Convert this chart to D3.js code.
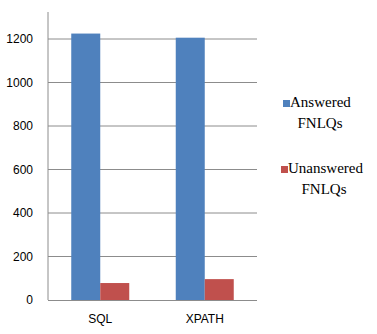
<!DOCTYPE html>
<html>
<head>
<meta charset="utf-8">
<style>
    body { margin: 0; background: #fff; }
    .tick-label { font-family: "Liberation Sans", Arial, sans-serif; font-size: 12px; fill: #000; }
    .legend-label { font-family: "Liberation Serif", "Times New Roman", "DejaVu Serif", serif; font-size: 15px; fill: #000; }
</style>
</head>
<body>
<svg width="377" height="334"></svg>
<script src="https://d3js.org/d3.v7.min.js"></script>
<script>
    // data
    let categories = ["SQL", "XPATH"]
    let seriesNames = ["Answered FNLQs", "Unanswered FNLQs"]
    let answered = [1225, 1206]
    let unanswered = [78, 96]
    let yTicks = [0, 200, 400, 600, 800, 1000, 1200]

    let colors = ["#4f81bd", "#c0504d"]

    let svg = d3.select("svg")

    let plotLeft = 48, plotRight = 257, plotTop = 12, plotBottom = 300

    let x0 = d3.scaleBand()
        .domain(categories)
        .range([plotLeft, plotRight])
        .paddingInner(0.445)
        .paddingOuter(0.2225)

    let x1 = d3.scaleBand()
        .domain([0, 1])
        .range([0, x0.bandwidth()])

    let y = d3.scaleLinear()
        .domain([0, 1200])
        .range([plotBottom, 39])

    // gridlines
    svg.append("g")
        .selectAll("line")
        .data(yTicks.filter(d => d > 0))
        .join("line")
        .attr("x1", plotLeft)
        .attr("x2", plotRight)
        .attr("y1", d => y(d))
        .attr("y2", d => y(d))
        .style("stroke", "#8c8c8c")
        .style("stroke-width", 1)

    // y tick labels
    svg.append("g")
        .selectAll("text")
        .data(yTicks)
        .join("text")
        .attr("class", "tick-label")
        .attr("x", plotLeft - 15)
        .attr("y", d => y(d) + 4)
        .attr("text-anchor", "end")
        .text(d => d)

    // bars
    let rows = categories.map((c, i) => ({ cat: c, vals: [answered[i], unanswered[i]] }))

    svg.append("g")
        .selectAll("g")
        .data(rows)
        .join("g")
        .attr("transform", d => "translate(" + x0(d.cat) + ",0)")
        .selectAll("rect")
        .data(d => d.vals.map((v, k) => ({ k: k, v: v })))
        .join("rect")
        .attr("x", d => x1(d.k))
        .attr("width", x1.bandwidth())
        .attr("y", d => y(d.v))
        .attr("height", d => y(0) - y(d.v))
        .style("fill", d => colors[d.k])

    // axes lines
    svg.append("line")
        .attr("x1", plotLeft).attr("x2", plotLeft)
        .attr("y1", plotTop).attr("y2", plotBottom)
        .style("stroke", "#8c8c8c")
    svg.append("line")
        .attr("x1", plotLeft).attr("x2", plotRight)
        .attr("y1", plotBottom + 0.5).attr("y2", plotBottom + 0.5)
        .style("stroke", "#8c8c8c")

    // x labels
    svg.append("g")
        .selectAll("text")
        .data(categories)
        .join("text")
        .attr("class", "tick-label")
        .attr("x", d => x0(d) + x0.bandwidth() / 2)
        .attr("y", 323)
        .attr("text-anchor", "middle")
        .text(d => d)

    // legend
    let legendY = [107, 173]
    let legend = svg.append("g")
        .selectAll("g")
        .data(seriesNames)
        .join("g")
        .attr("transform", (d, i) => "translate(0," + legendY[i] + ")")

    legend.append("rect")
        .attr("x", (d, i) => i == 0 ? 283 : 281)
        .attr("y", -7)
        .attr("width", 7)
        .attr("height", 7)
        .style("fill", (d, i) => colors[i])

    let firstWords = legend.append("text")
        .attr("class", "legend-label")
        .attr("x", (d, i) => i == 0 ? 290 : 288)
        .attr("y", 0)
        .text(d => d.split(" ")[0])

    let secondWords = legend.append("text")
        .attr("class", "legend-label")
        .attr("x", (d, i) => i == 0 ? 320 : 324)
        .attr("y", 21)
        .attr("text-anchor", "middle")
        .text(d => d.split(" ")[1])

    // shrink the legend font if the serif face that got picked is wider
    let w = firstWords.node().getComputedTextLength()
    if (w > 63) {
        let fs = 15 * 61 / w
        firstWords.style("font-size", fs + "px")
        secondWords.style("font-size", fs + "px")
    }
</script>
</body>
</html>
